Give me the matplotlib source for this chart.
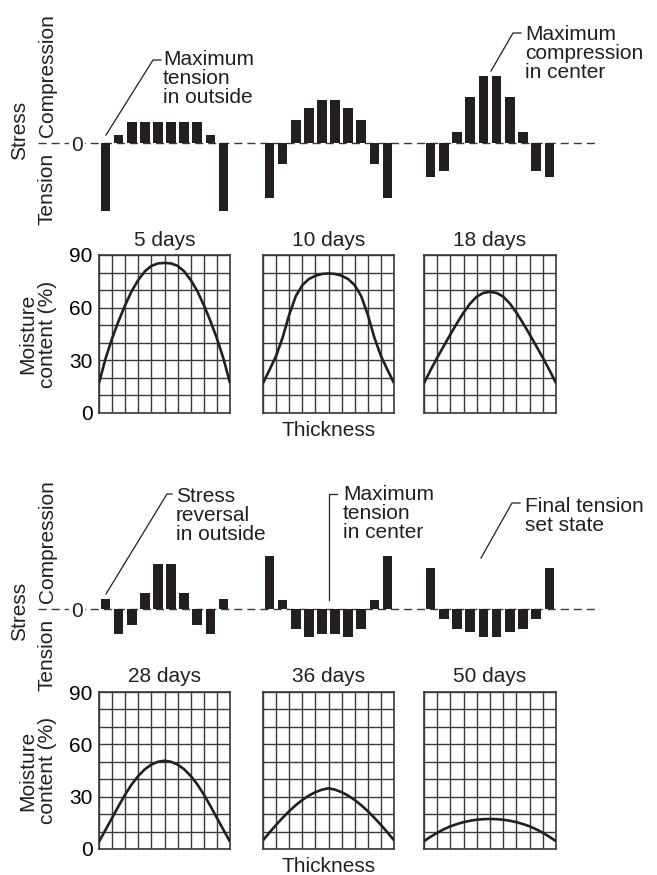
import matplotlib
matplotlib.use("Agg")
import matplotlib.pyplot as plt
from matplotlib.lines import Line2D
import numpy as np

# ---------------- data ----------------
days_top = ["5 days", "10 days", "18 days"]
days_bottom = ["28 days", "36 days", "50 days"]

# stress profile across thickness (10 layers), relative units (+ compression, - tension)
stress_5 = [-68, 8, 21, 21, 21, 21, 21, 21, 8, -68]
stress_10 = [-55, -21, 23, 35, 43, 43, 35, 23, -21, -55]
stress_18 = [-34, -28, 11, 46, 67, 67, 46, 11, -28, -34]
stress_28 = [10, -25, -16, 16, 45, 45, 16, -16, -25, 10]
stress_36 = [53, 9, -20, -28, -25, -25, -28, -20, 9, 53]
stress_50 = [41, -10, -20, -23, -28, -28, -23, -20, -10, 41]

# moisture content (%) across thickness, sampled at 0, 0.5, ..., 10
thickness = [0, 0.5, 1, 1.5, 2, 2.5, 3, 3.5, 4, 4.5, 5, 5.5, 6, 6.5, 7, 7.5, 8, 8.5, 9, 9.5, 10]
moist_5 = [17, 31, 42.5, 52.5, 61.5, 69.5, 75.8, 80.7, 83.8, 85.2, 85.5,
           85.2, 83.8, 80.7, 75.8, 69.5, 61.5, 52.5, 42.5, 31, 17]
moist_10 = [17, 24.6, 32.5, 43, 56, 66.5, 72.8, 76.3, 78.2, 79.2, 79.5,
            79.2, 78.2, 76.3, 72.8, 66.5, 56, 43, 32.5, 24.6, 17]
moist_18 = [17, 24.5, 31.5, 38.2, 44.8, 51.2, 57.2, 62.4, 66.3, 68.4, 69,
            68.4, 66.3, 62.4, 57.2, 51.2, 44.8, 38.2, 31.5, 24.5, 17]
moist_28 = [4.2, 11.0, 17.8, 24.7, 31.3, 37.1, 41.9, 45.7, 48.4, 50.0, 50.6,
            50.0, 48.4, 45.7, 41.9, 37.1, 31.3, 24.7, 17.8, 11.0, 4.2]
moist_36 = [5, 9.5, 13.8, 17.9, 21.7, 25.1, 28.1, 30.6, 32.6, 34.0, 34.8,
            34.0, 32.6, 30.6, 28.1, 25.1, 21.7, 17.9, 13.8, 9.5, 5]
moist_50 = [4.5, 7.0, 9.3, 11.3, 13.0, 14.3, 15.4, 16.2, 16.8, 17.1, 17.2,
            17.1, 16.8, 16.2, 15.4, 14.3, 13.0, 11.3, 9.3, 7.0, 4.5]

moist_ticks = [0, 30, 60, 90]

annot_top = ["Maximum\ntension\nin outside", "Maximum\ncompression\nin center"]
annot_bottom = ["Stress\nreversal\nin outside", "Maximum\ntension\nin center", "Final tension\nset state"]

# ---------------- style ----------------
INK = "#231f20"
GRID = "#3a3a3a"
FONT = ["Liberation Sans", "DejaVu Sans"]
FS = 15
plt.rcParams["font.family"] = FONT
plt.rcParams["font.size"] = FS
plt.rcParams["text.color"] = INK

W, H = 657, 875
fig = plt.figure(figsize=(W / 100, H / 100), dpi=100)
fig.patch.set_facecolor("white")


def rect(x0, y0, x1, y1):
    return [x0 / W, 1 - y1 / H, (x1 - x0) / W, (y1 - y0) / H]


def fx(x):
    return x / W


def fy(y):
    return 1 - y / H


panels_x = [(99, 230), (263, 394), (424, 556)]
rows = [
    dict(zero=143.3, grid=(255, 413), stress=[stress_5, stress_10, stress_18],
         moist=[moist_5, moist_10, moist_18], days=days_top,
         stress_lbl=130, comp_bottom=137, tens_top=153),
    dict(zero=609.3, grid=(692, 849), stress=[stress_28, stress_36, stress_50],
         moist=[moist_28, moist_36, moist_50], days=days_bottom,
         stress_lbl=611, comp_bottom=603, tens_top=619),
]

SR = 80  # half-range of the stress axes (relative units = px)

for row in rows:
    z = row["zero"]
    # wide axes holding the dashed zero line
    axw = fig.add_axes(rect(38, z - SR, 600, z + SR))
    axw.set_xlim(0, 1)
    axw.set_ylim(-SR, SR)
    axw.axhline(0, color=GRID, lw=1.0, dashes=(5.8, 3.6))
    axw.axis("off")
    fig.text(fx(77), fy(z), "0", ha="center", va="center_baseline", fontsize=FS,
             bbox=dict(facecolor="white", edgecolor="none", pad=1.5))

    # row labels
    fig.text(fx(20), fy(row["stress_lbl"]), "Stress", rotation=90, ha="center", va="center")
    fig.text(fx(47), fy(row["comp_bottom"]), "Compression", rotation=90, ha="center", va="bottom")
    fig.text(fx(47), fy(row["tens_top"]), "Tension", rotation=90, ha="center", va="top")

    g0, g1 = row["grid"]
    for i, (x0, x1) in enumerate(panels_x):
        # stress bars
        axs = fig.add_axes(rect(x0, z - SR, x1, z + SR))
        vals = row["stress"][i]
        axs.bar(np.arange(len(vals)) + 0.5, vals, width=0.74, color=INK, zorder=3)
        axs.set_xlim(0, 10)
        axs.set_ylim(-SR, SR)
        axs.axis("off")

        # moisture grid
        axm = fig.add_axes(rect(x0, g0, x1, g1))
        axm.plot(thickness, row["moist"][i], color=INK, lw=1.9, solid_joinstyle="round",
                 solid_capstyle="butt", zorder=3)
        axm.set_xlim(0, 10)
        axm.set_ylim(0, 90)
        axm.set_xticks(range(0, 11))
        axm.set_yticks(range(0, 91, 10))
        axm.grid(True, color=GRID, lw=1.0)
        axm.tick_params(length=0, labelbottom=False)
        if i == 0:
            axm.set_yticklabels([str(v) if v in moist_ticks else "" for v in range(0, 91, 10)])
            axm.tick_params(axis="y", pad=4.5, labelsize=FS)
        else:
            axm.tick_params(labelleft=False)
        for sp in axm.spines.values():
            sp.set_color(GRID)
            sp.set_linewidth(1.2)

        fig.text(fx((x0 + x1) / 2), fy(g0 - 15), row["days"][i], ha="center", va="center")

    fig.text(fx(38), fy((g0 + g1) / 2), "Moisture\ncontent (%)", rotation=90,
             ha="center", va="center", multialignment="center", linespacing=1.05)
    fig.text(fx((panels_x[1][0] + panels_x[1][1]) / 2), fy(g1 + 18), "Thickness",
             ha="center", va="center")


def leader(pts):
    xs = [fx(p[0]) for p in pts]
    ys = [fy(p[1]) for p in pts]
    fig.add_artist(Line2D(xs, ys, transform=fig.transFigure, color=INK, lw=0.9))


def note(x, ytop, s):
    fig.text(fx(x), fy(ytop), s, ha="left", va="top", linespacing=1.0)


# top annotations
leader([(106, 135), (153, 60), (161, 60)])
note(163, 50, annot_top[0])
leader([(491, 71), (513, 33), (521, 33)])
note(525, 25, annot_top[1])

# bottom annotations
leader([(106, 594), (167, 494), (172, 494)])
note(176, 487, annot_bottom[0])
leader([(329, 600), (329, 494), (337, 494)])
note(343, 485, annot_bottom[1])
leader([(481, 558), (512, 503), (520, 503)])
note(525, 497, annot_bottom[2])

fig.savefig("out.png", dpi=100, facecolor="white")
